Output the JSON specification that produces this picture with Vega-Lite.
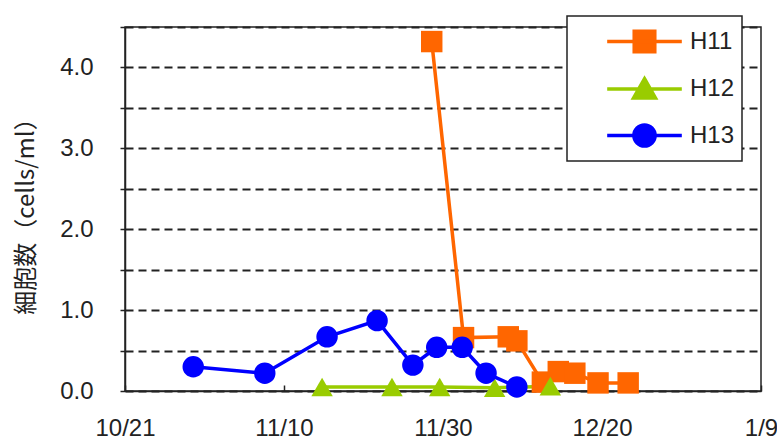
{
  "$schema": "https://vega.github.io/schema/vega-lite/v6.json",
  "width": 636,
  "height": 364,
  "autosize": {"type": "none"},
  "padding": {"left": 125, "top": 27, "right": 16, "bottom": 48},
  "background": "white",
  "config": {
    "view": {"stroke": "#222", "strokeWidth": 1.5},
    "font": "Liberation Sans"
  },
  "data": {
    "values": [
      {"s": "H11", "d": "2000-11-28T14:00", "v": 4.32},
      {"s": "H11", "d": "2000-12-02T14:00", "v": 0.66},
      {"s": "H11", "d": "2000-12-08T05:00", "v": 0.67},
      {"s": "H11", "d": "2000-12-09T07:00", "v": 0.62},
      {"s": "H11", "d": "2000-12-12T12:00", "v": 0.11},
      {"s": "H11", "d": "2000-12-14T12:00", "v": 0.24},
      {"s": "H11", "d": "2000-12-16T14:00", "v": 0.22},
      {"s": "H11", "d": "2000-12-19T12:00", "v": 0.10},
      {"s": "H11", "d": "2000-12-23T07:00", "v": 0.10},
      {"s": "H12", "d": "2000-11-14T19:00", "v": 0.05},
      {"s": "H12", "d": "2000-11-23T14:00", "v": 0.05},
      {"s": "H12", "d": "2000-11-29T14:00", "v": 0.05},
      {"s": "H12", "d": "2000-12-06T12:00", "v": 0.04},
      {"s": "H12", "d": "2000-12-13T12:00", "v": 0.06},
      {"s": "H13", "d": "2000-10-29T14:00", "v": 0.30},
      {"s": "H13", "d": "2000-11-07T14:00", "v": 0.22},
      {"s": "H13", "d": "2000-11-15T10:00", "v": 0.67},
      {"s": "H13", "d": "2000-11-21T17:00", "v": 0.87},
      {"s": "H13", "d": "2000-11-26T05:00", "v": 0.32},
      {"s": "H13", "d": "2000-11-29T05:00", "v": 0.54},
      {"s": "H13", "d": "2000-12-02T10:00", "v": 0.54},
      {"s": "H13", "d": "2000-12-05T10:00", "v": 0.22},
      {"s": "H13", "d": "2000-12-09T07:00", "v": 0.05}
    ]
  },
  "encoding": {
    "x": {
      "field": "d", "type": "temporal",
      "scale": {"domain": [{"year": 2000, "month": 10, "date": 21}, {"year": 2001, "month": 1, "date": 9}]},
      "axis": {
        "title": null,
        "values": [
          {"year": 2000, "month": 10, "date": 21},
          {"year": 2000, "month": 11, "date": 10},
          {"year": 2000, "month": 11, "date": 30},
          {"year": 2000, "month": 12, "date": 20},
          {"year": 2001, "month": 1, "date": 9}
        ],
        "format": "%-m/%-d",
        "labelFlush": false, "labelOverlap": false, "labelBound": false,
        "labelFontSize": 24, "labelColor": "#222", "labelFont": "Liberation Sans",
        "tickSize": -6, "tickColor": "#222", "tickWidth": 1.5,
        "labelPadding": 31,
        "domainColor": "#222", "domainWidth": 1.5,
        "grid": false
      }
    },
    "y": {
      "field": "v", "type": "quantitative",
      "scale": {"domain": [0, 4.5], "nice": false},
      "axis": {
        "title": "細胞数（cells/ml）",
        "titleFont": "Noto Sans CJK JP", "titleFontSize": 24, "titleFontWeight": "normal", "titleColor": "#222",
        "titleAngle": -90, "titleX": -99, "titleY": 183, "titleAlign": "center", "titleBaseline": "middle",
        "values": [0, 0.5, 1, 1.5, 2, 2.5, 3, 3.5, 4, 4.5],
        "labelExpr": "datum.value % 1 === 0 ? format(datum.value, '.1f') : ''",
        "labelFontSize": 24, "labelColor": "#222", "labelFont": "Liberation Sans",
        "labelPadding": 27,
        "tickSize": 5, "tickColor": "#222", "tickWidth": 1.5,
        "domainColor": "#222", "domainWidth": 1.5,
        "grid": true, "gridColor": "#222", "gridDash": [8, 5], "gridWidth": 2
      }
    },
    "color": {
      "field": "s", "type": "nominal",
      "scale": {"domain": ["H11", "H12", "H13"], "range": ["#FF6600", "#99CC00", "#0000FF"]},
      "legend": {
        "title": null,
        "orient": "none", "legendX": 442, "legendY": -11,
        "padding": 7,
        "strokeColor": "#222", "fillColor": "white",
        "symbolSize": 1100, "symbolOffset": 52,
        "labelFontSize": 24, "labelFont": "Liberation Sans", "labelColor": "#222",
        "labelOffset": 27, "rowPadding": 11.5,
        "labelExpr": "datum.label + '\u00a0\u00a0\u00a0\u00a0\u00a0\u00a0\u00a0\u00a0\u00a0\u00a0'",
        "encode": {
          "legend": {
            "update": {"strokeWidth": {"value": 1.5}}
          },
          "symbols": {
            "update": {
              "shape": {"signal": "datum.value === 'H11' ? 'M-2.25,0H2.25M-0.62,-0.62H0.62V0.62H-0.62Z' : datum.value === 'H12' ? 'M-2.25,0H2.25M0,-0.62L0.66,0.55H-0.66Z' : 'M-2.25,0H2.25M0.64,0A0.64,0.64,0,1,1,-0.64,0A0.64,0.64,0,1,1,0.64,0Z'"},
              "stroke": {"signal": "scale('color', datum.value)"},
              "strokeWidth": {"value": 3},
              "opacity": {"value": 1}
            }
          }
        }
      }
    }
  },
  "layer": [
    {
      "mark": {"type": "line"},
      "encoding": {
        "strokeWidth": {
          "field": "s", "type": "nominal",
          "scale": {"domain": ["H11", "H12", "H13"], "range": [3.5, 3.5, 4.5]},
          "legend": null
        }
      }
    },
    {
      "mark": {"type": "point", "filled": true, "size": 460, "opacity": 1},
      "encoding": {
        "shape": {
          "condition": [
            {"test": "datum.s === 'H11'", "value": "square"},
            {"test": "datum.s === 'H12'", "value": "triangle-up"}
          ],
          "value": "circle"
        }
      }
    }
  ]
}
